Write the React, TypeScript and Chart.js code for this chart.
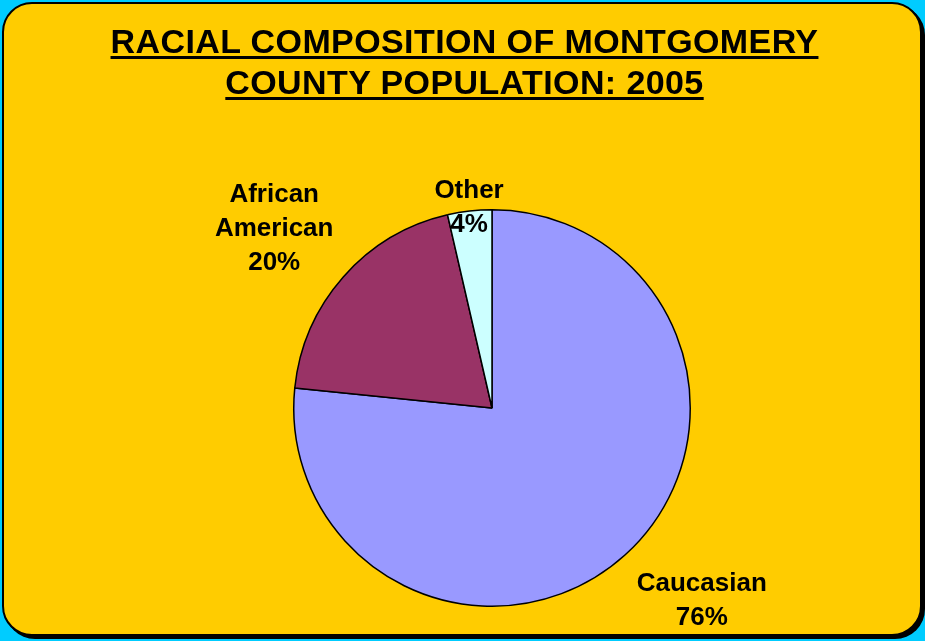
import React, { useEffect, useRef } from "react";
import { Chart, registerables } from "chart.js";

Chart.register(...registerables);

const categories = ["Caucasian", "African American", "Other"];
const values = [76.6, 19.8, 3.6];
const percentLabels = ["76%", "20%", "4%"];
const nameLines = [["Caucasian"], ["African", "American"], ["Other"]];
const sliceColors = ["#9999FF", "#993366", "#CCFFFF"];
const titleLines = ["RACIAL COMPOSITION OF MONTGOMERY", "COUNTY POPULATION: 2005"];

const labelRadiusFactor = [1.43, 1.43, 1.025];
const labelAngleOffsetDeg = [-5.6, -1.6, 0];

const labelPlugin = {
  id: "outerLabels",
  afterDatasetsDraw(chart: any) {
    const ctx = chart.ctx;
    const meta = chart.getDatasetMeta(0);
    ctx.save();
    ctx.font = "bold 26px 'Liberation Sans', Arial, sans-serif";
    ctx.fillStyle = "#000";
    ctx.textAlign = "center";
    ctx.textBaseline = "middle";
    const lineH = 34;
    meta.data.forEach((arc: any, i: number) => {
      const p = arc.getProps(["x", "y", "startAngle", "endAngle", "outerRadius"], true);
      const mid = (p.startAngle + p.endAngle) / 2 + (labelAngleOffsetDeg[i] * Math.PI) / 180;
      const r = p.outerRadius * labelRadiusFactor[i];
      const cx = p.x + Math.cos(mid) * r;
      const cy = p.y + Math.sin(mid) * r + 2;
      const lines = [...nameLines[i], percentLabels[i]];
      const top = cy - ((lines.length - 1) * lineH) / 2;
      lines.forEach((t, j) => ctx.fillText(t, cx, top + j * lineH));
    });
    ctx.restore();
  },
};

export default function App() {
  const ref = useRef<HTMLCanvasElement>(null);
  useEffect(() => {
    document.body.style.margin = "0";
    const chart = new Chart(ref.current!, {
      type: "pie",
      data: {
        labels: categories,
        datasets: [
          {
            data: values,
            backgroundColor: sliceColors,
            borderColor: "#000",
            borderWidth: 1.5,
          },
        ],
      },
      options: {
        animation: false,
        responsive: false,
        maintainAspectRatio: false,
        layout: { padding: { left: 293, top: 209, right: 234, bottom: 34 } },
        plugins: {
          legend: { display: false },
          tooltip: { enabled: false },
          title: { display: false },
        },
      },
      plugins: [labelPlugin],
    });
    return () => chart.destroy();
  }, []);

  return (
    <div style={{ position: "fixed", left: 0, top: 0, width: 925, height: 641, background: "#00CCFF", overflow: "hidden" }}>
      <div
        style={{
          position: "absolute",
          left: 2,
          top: 2,
          width: 916,
          height: 630,
          background: "#FFCC00",
          border: "2px solid #000",
          borderRadius: 30,
          boxShadow: "3px 3px 0 #000",
        }}
      />
      <canvas ref={ref} width={925} height={641} style={{ position: "absolute", left: 0, top: 0, width: 925, height: 641 }} />
      <div
        style={{
          position: "absolute",
          left: 0,
          top: 21,
          width: 929,
          textAlign: "center",
          fontFamily: "'Liberation Sans', Arial, sans-serif",
          fontWeight: "bold",
          fontSize: 34,
          letterSpacing: "0.4px",
          lineHeight: "41px",
          textDecoration: "underline",
          textDecorationThickness: 3,
          textUnderlineOffset: "3px",
          color: "#000",
        }}
      >
        {titleLines.map((t, i) => (
          <div key={i}>{t}</div>
        ))}
      </div>
    </div>
  );
}
